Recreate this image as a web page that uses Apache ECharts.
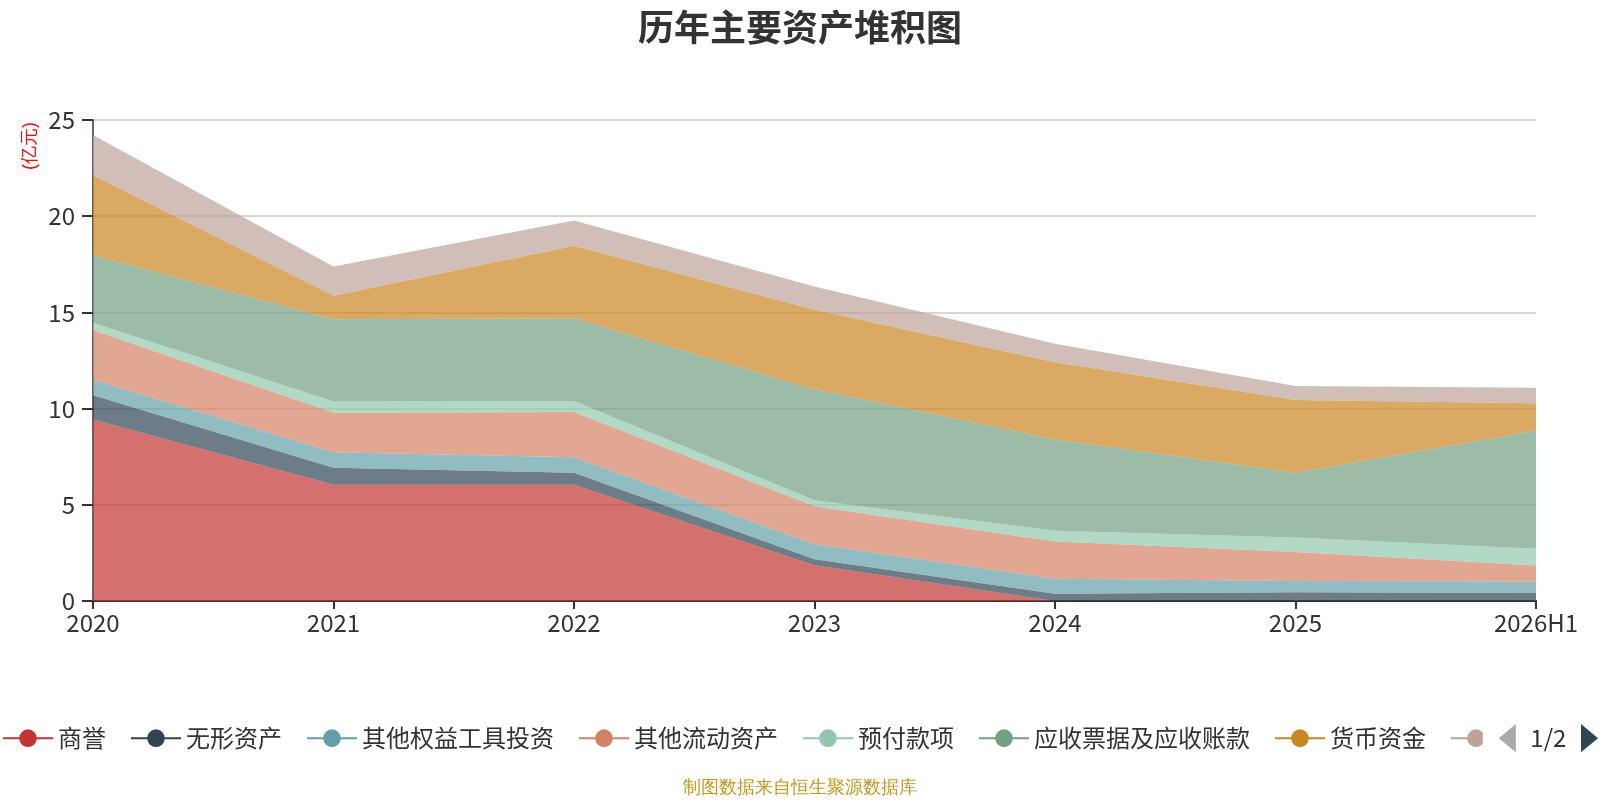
<!DOCTYPE html>
<html>
<head>
<meta charset="utf-8">
<title>历年主要资产堆积图</title>
<script src="https://cdn.jsdelivr.net/npm/echarts@6/dist/echarts.min.js"></script>
<style>
    html, body { margin: 0; padding: 0; background: #fff; }
    #main { width: 1600px; height: 800px; }
</style>
</head>
<body>
<div id="main"></div>
<script>
    // 年份
    var years = ['2020', '2021', '2022', '2023', '2024', '2025', '2026H1'];

    // 各项资产（亿元）
    var goodwill      = [9.43, 6.04, 6.04, 1.86, 0.00, 0.00, 0.00]; // 商誉
    var intangible    = [1.27, 0.89, 0.63, 0.31, 0.38, 0.45, 0.42]; // 无形资产
    var otherEquity   = [0.80, 0.80, 0.80, 0.78, 0.78, 0.59, 0.59]; // 其他权益工具投资
    var otherCurrent  = [2.58, 2.05, 2.35, 1.98, 1.93, 1.51, 0.83]; // 其他流动资产
    var prepaid       = [0.38, 0.59, 0.57, 0.31, 0.56, 0.75, 0.87]; // 预付款项
    var receivable    = [3.51, 4.28, 4.30, 5.77, 4.75, 3.37, 6.14]; // 应收票据及应收账款
    var cash          = [4.16, 1.22, 3.77, 4.13, 4.01, 3.78, 1.43]; // 货币资金
    var inventory     = [2.09, 1.51, 1.32, 1.21, 0.96, 0.73, 0.80]; // 存货
    var fixedAssets   = [];                                          // 固定资产（第2页图例，图中无面积）

    var seriesNames = ['商誉', '无形资产', '其他权益工具投资', '其他流动资产', '预付款项', '应收票据及应收账款', '货币资金', '存货', '固定资产'];
    var seriesData = [goodwill, intangible, otherEquity, otherCurrent, prepaid, receivable, cash, inventory, fixedAssets];
    var colors = ['#c23531', '#2f4554', '#61a0a8', '#d48265', '#91c7ae', '#749f82', '#ca8622', '#bda29a', '#6e7074'];

    var series = [];
    for (var i = 0; i < seriesNames.length; i++) {
        series.push({
            name: seriesNames[i],
            type: 'line',
            stack: 'total',
            symbol: 'circle',
            showSymbol: false,
            lineStyle: { width: 0 },
            areaStyle: { opacity: 0.7 },
            emphasis: { disabled: true },
            data: seriesData[i]
        });
    }

    var chart = echarts.init(document.getElementById('main'));
    chart.setOption({
        animation: false,
        color: colors,
        textStyle: { fontFamily: 'Noto Sans CJK SC' },
        title: {
            text: '历年主要资产堆积图',
            left: 'center',
            top: 4,
            textStyle: { fontSize: 36, fontWeight: 'bold', color: '#333' }
        },
        graphic: [{
            type: 'text',
            x: 30,
            y: 146,
            rotation: Math.PI / 2,
            style: {
                text: '(亿元)',
                fill: '#ff0000',
                fontSize: 18,
                align: 'center',
                verticalAlign: 'middle'
            }
        }, {
            type: 'text',
            left: 'center',
            top: 779,
            style: {
                text: '制图数据来自恒生聚源数据库',
                fill: '#c8961e',
                fontSize: 18
            }
        }],
        legend: {
            type: 'scroll',
            orient: 'horizontal',
            left: 0,
            right: 0,
            top: 719,
            padding: [5, 2, 5, 2],
            itemWidth: 50,
            itemHeight: 22,
            itemGap: 24,
            lineStyle: { width: 2 },
            textStyle: { fontSize: 24, color: '#333' },
            pageIconColor: '#2f4554',
            pageIconInactiveColor: '#aaa',
            pageIconSize: [17, 30],
            pageButtonItemGap: 4,
            pageButtonGap: 16,
            pageTextStyle: { fontSize: 24, color: '#333' },
            data: seriesNames
        },
        grid: {
            left: 93,
            right: 64,
            top: 120,
            bottom: 199
        },
        xAxis: {
            type: 'category',
            boundaryGap: false,
            data: years,
            axisLine: { lineStyle: { color: '#333', width: 2 } },
            axisTick: { show: true, length: 8, lineStyle: { color: '#333', width: 2 } },
            axisLabel: { fontSize: 24, color: '#333', margin: 10 }
        },
        yAxis: {
            type: 'value',
            min: 0,
            max: 25,
            interval: 5,
            axisLine: { show: true, lineStyle: { color: '#333', width: 1.5 } },
            axisTick: { show: true, length: 11, lineStyle: { color: '#333', width: 2 } },
            axisLabel: { fontSize: 24, color: '#333', margin: 18 },
            splitLine: { lineStyle: { color: '#c8c8c8', width: 1.5 } }
        },
        series: series
    });
</script>
</body>
</html>
